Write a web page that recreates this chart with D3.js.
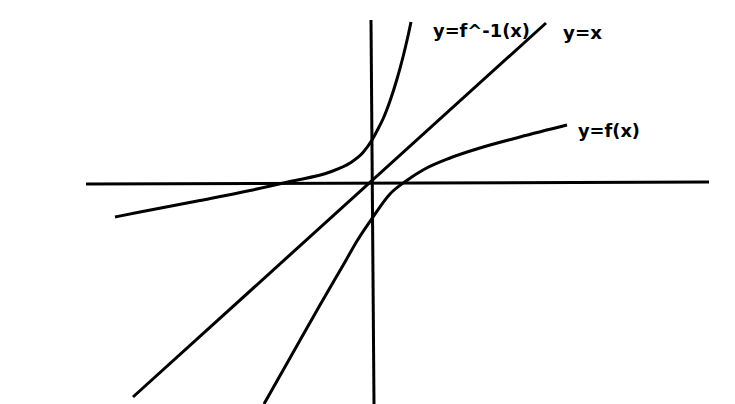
<!DOCTYPE html>
<html>
<head>
<meta charset="utf-8">
<script src="https://cdn.jsdelivr.net/npm/d3@7"></script>
<style>
  html, body { margin: 0; padding: 0; background: #fff; }
  svg { display: block; }
</style>
</head>
<body>
<svg id="chart" width="735" height="404"></svg>
<script>
// ---- data (sketch units: origin at the axes crossing, y up) ----
const seriesNames = ["y=f^-1(x)", "y=x", "y=f(x)"];

const xAxisLine = [[-28.6, -0.1], [33.7, 0.1]];
const yAxisLine = [[-0.1, 16.3], [0.2, -22.1]];

const identityX = [-23.9, 17.4];
const identityY = [-21.4, 16.0];

const fInvX = [-25.7, -23.2, -17.2, -12.2, -8.2, -4.2, -2.2, -0.9, 0.0, 0.6, 1.1, 1.8, 2.5, 3.1, 3.6, 3.9];
const fInvY = [-3.4, -2.9, -1.75, -0.75, 0.15, 1.1, 2.0, 3.05, 4.3, 5.4, 6.4, 8.2, 10.4, 12.6, 14.7, 16.1];

const fX = [-10.8, -8.2, -5.2, -2.7, -1.5, 0.1, 1.8, 3.4, 5.1, 7.8, 10.8, 14.8, 19.5];
const fY = [-22.1, -17.5, -12.2, -7.9, -5.8, -3.4, -1.1, 0.2, 1.3, 2.5, 3.5, 4.6, 5.8];

// ---- drawing ----
const W = 735, H = 404;
const svg = d3.select("#chart");
const x = d3.scaleLinear().domain([-37.2, 36.3]).range([0, W]);
const y = d3.scaleLinear().domain([18.3, -22.1]).range([0, H]);

const zip = (xs, ys) => xs.map((v, i) => [v, ys[i]]);

const straight = d3.line().x(d => x(d[0])).y(d => y(d[1]));
const smooth = d3.line().x(d => x(d[0])).y(d => y(d[1])).curve(d3.curveMonotoneX);

const g = svg.append("g")
  .attr("fill", "none")
  .attr("stroke", "#000")
  .attr("stroke-width", 3)
  .attr("stroke-linecap", "butt");

g.append("path").attr("d", straight(xAxisLine));
g.append("path").attr("d", straight(yAxisLine));
g.append("path").attr("d", straight(zip(identityX, identityY)));
g.append("path").attr("d", smooth(zip(fInvX, fInvY)));
g.append("path").attr("d", smooth(zip(fX, fY)));

// labels
const labelPos = [
  { px: 433, py: 37, len: 97 },
  { px: 563, py: 38.5, len: 39 },
  { px: 578, py: 137, len: 62 }
];
svg.selectAll("text.lbl")
  .data(seriesNames)
  .enter().append("text")
  .attr("class", "lbl")
  .attr("x", (d, i) => labelPos[i].px)
  .attr("y", (d, i) => labelPos[i].py)
  .attr("textLength", (d, i) => labelPos[i].len)
  .attr("lengthAdjust", "spacingAndGlyphs")
  .attr("font-family", "DejaVu Sans, sans-serif")
  .attr("font-weight", "bold")
  .attr("font-size", 18)
  .attr("fill", "#000")
  .text(d => d);
</script>
</body>
</html>
